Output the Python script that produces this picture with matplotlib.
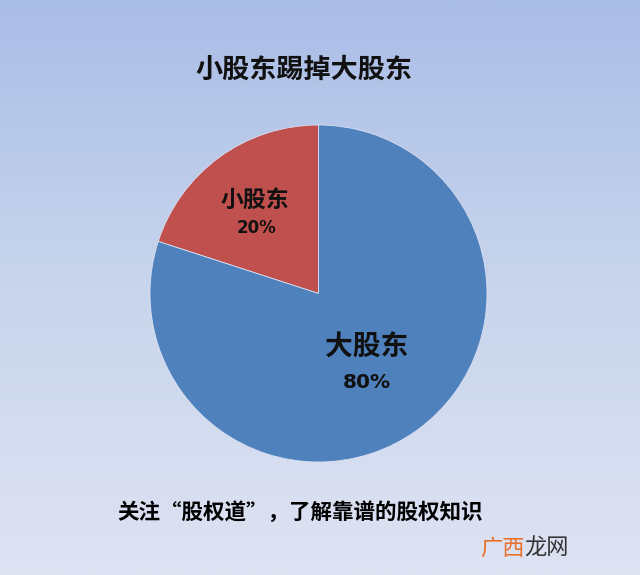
import numpy as np
import matplotlib
matplotlib.use("Agg")
import matplotlib.pyplot as plt
from matplotlib.colors import LinearSegmentedColormap

plt.rcParams['font.family'] = ['Noto Sans CJK SC', 'DejaVu Sans']

# Data
categories = ['小股东', '大股东']
shares = [20, 80]
colors = ['#C0504D', '#4F81BD']
title = '小股东踢掉大股东'
footer = '关注“股权道”，了解靠谱的股权知识'

W, H = 640, 575
fig = plt.figure(figsize=(W / 100, H / 100), dpi=100)

# Background gradient
bg = fig.add_axes([0, 0, 1, 1])
cmap = LinearSegmentedColormap.from_list(
    'bg', [(0.0, (170/255, 189/255, 231/255)),
           (0.5, (200/255, 213/255, 236/255)),
           (1.0, (223/255, 227/255, 243/255))])
grad = np.linspace(0, 1, 256).reshape(-1, 1)
bg.imshow(grad, aspect='auto', cmap=cmap, extent=[0, 1, 0, 1], origin='upper')
bg.set_axis_off()

# Pie axes
cx, cy, r = 318.5, 293.5, 168.5
ax = fig.add_axes([(cx - r) / W, (H - cy - r) / H, 2 * r / W, 2 * r / H])
ax.pie(shares, colors=colors, startangle=90, counterclock=True,
       wedgeprops=dict(edgecolor=(0.85, 0.88, 0.95), linewidth=0.6))
ax.set_xlim(-1, 1)
ax.set_ylim(-1, 1)
ax.set_axis_off()

def ftext(x, y, s, **kw):
    fig.text(x / W, 1 - y / H, s, ha='center', va='center', **kw)

ftext(304, 70, title, fontsize=19.5, fontweight='bold', color='#111111')

ftext(255, 200, categories[0], fontsize=16.5, fontweight='bold', color='#111111')
ftext(257, 228, f'{shares[0]}%', fontsize=12, fontweight='bold', color='#111111',
      family='DejaVu Sans')
ftext(367, 348, categories[1], fontsize=20, fontweight='bold', color='#111111')
ftext(367, 382, f'{shares[1]}%', fontsize=14.5, fontweight='bold', color='#111111',
      family='DejaVu Sans')

ftext(300, 512, footer, fontsize=15.5, fontweight='bold', color='#000000')

# watermark
fig.text(480 / W, 1 - 548 / H, '广西', ha='left', va='center', fontsize=16,
         color='#E8702A')
fig.text(524 / W, 1 - 548 / H, '龙网', ha='left', va='center', fontsize=16,
         color='#333333')

fig.savefig('out.png', dpi=100)
